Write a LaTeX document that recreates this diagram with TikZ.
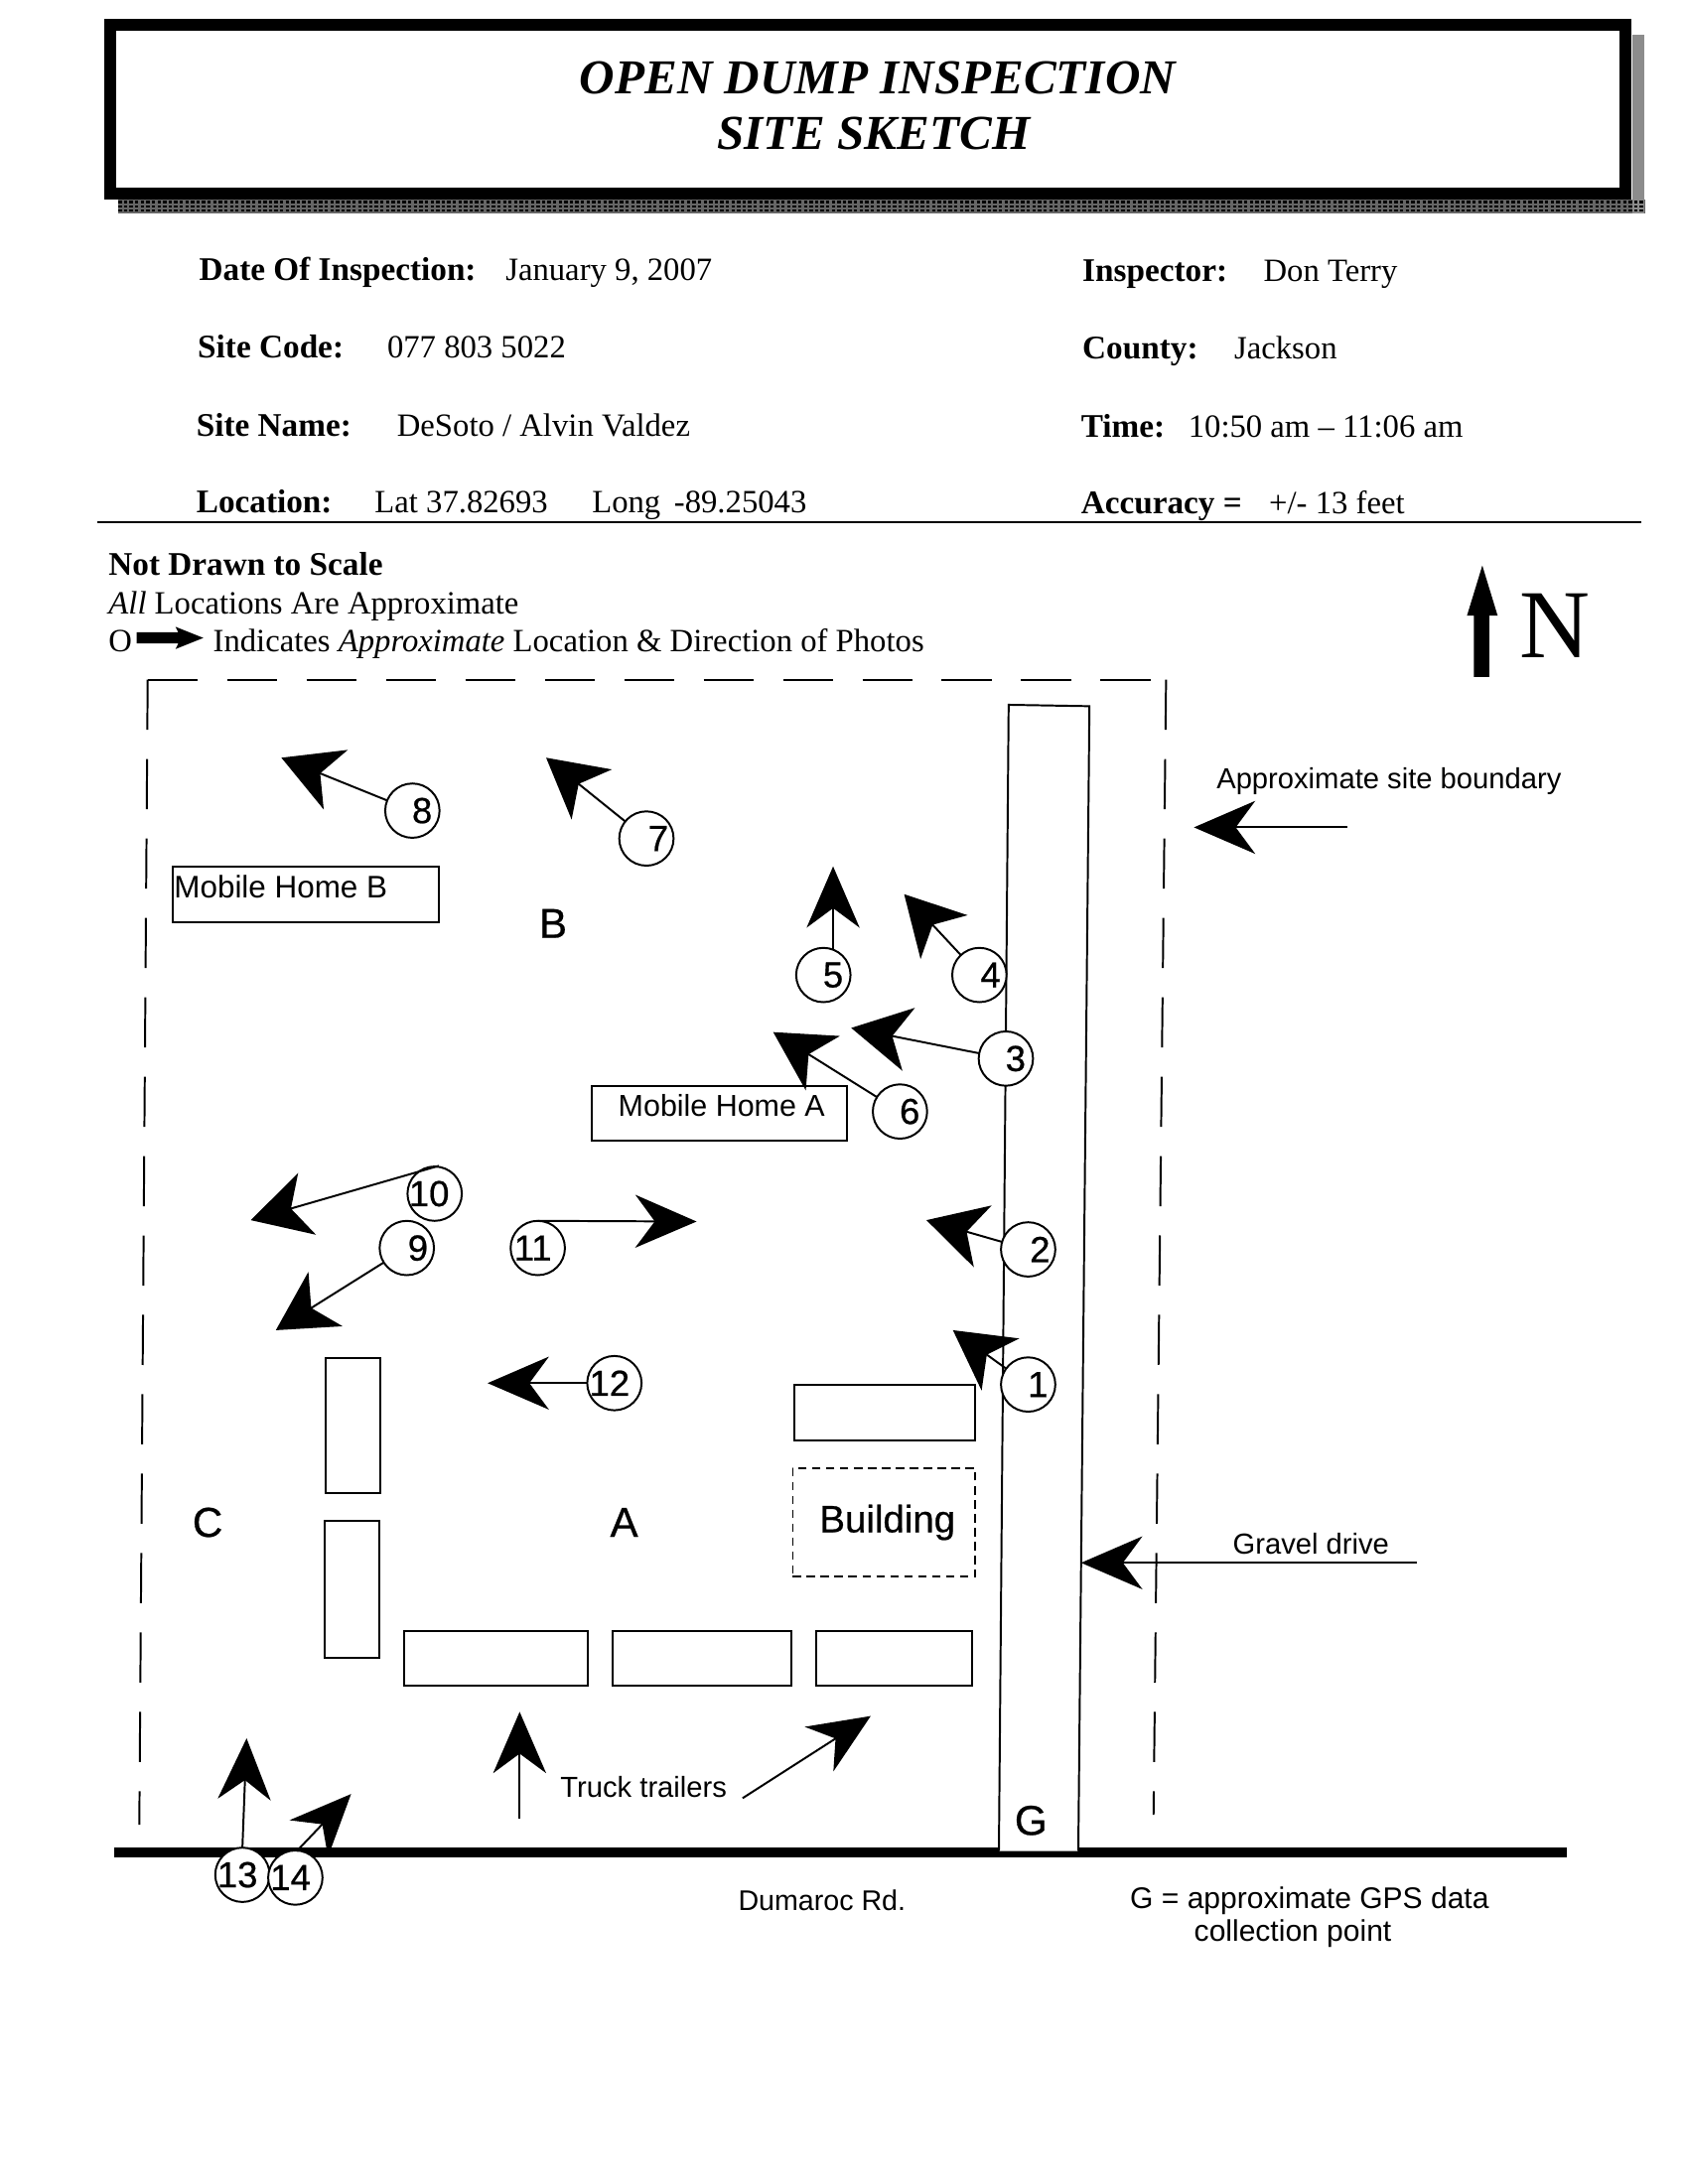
\documentclass[tikz,border=0pt]{standalone}
\usepackage{fontspec}
\setmainfont{Liberation Serif}
\newfontfamily\arl{Liberation Sans}
\newfontfamily\arlh[FakeBold=0.6]{Liberation Sans}
\usetikzlibrary{arrows.meta,shapes.geometric}
\newcommand{\sz}[1]{\fontsize{#1}{#1}\selectfont}
\tikzset{
  every node/.style={inner sep=0pt,outer sep=0pt},
  txt/.style={anchor=base west,font=\sz{11.65}},
  bld/.style={anchor=base west,font=\sz{11.85}\bfseries},
  sanslab/.style={anchor=center,font=\arl\sz{10.4}},
  bigl/.style={anchor=center,font=\arlh\sz{15}},
  unit/.style={draw=black,line width=0.7pt,fill=white},
  numc/.style={circle,draw=black,line width=0.7pt,fill=white,minimum size=19.5pt,font=\arlh\sz{13},text=black},
  pa/.style={draw=black,line width=0.7pt,-{Stealth[length=22pt,width=19pt,inset=7pt]}},
  pafat/.style={draw=black,line width=0.7pt,-{Stealth[length=21pt,width=23pt,inset=6pt]}},
  bound/.style={black,line width=0.7pt,dash pattern=on 18pt off 10.5pt},
}
\begin{document}
\begin{tikzpicture}[x=0.5pt,y=-0.5pt]
\useasboundingbox (0,0) rectangle (1209,1568);
% header
\fill[black!60] (85,143) rectangle (1181,153);
\fill[black!45] (1172,25) rectangle (1180,153);
\draw[black,line width=0.8pt,dash pattern=on 1.2pt off 0.8pt] (85,145) -- (1180,145) (85,148) -- (1180,148) (85,151) -- (1180,151);
\node[draw=black,line width=4.3pt,fill=white,minimum width=544pt,minimum height=60.5pt,anchor=north west] (hdr) at (79,18) {};
\node[font=\sz{17.5}\bfseries\itshape] (t1) at (630,56) {OPEN DUMP INSPECTION};
\node[font=\sz{17.5}\bfseries\itshape] (t2) at (627,96) {SITE SKETCH};
% form
\node[bld] (f1) at (143,201) {Date Of Inspection:};
\node[txt] (f1v) at (363,201) {January 9, 2007};
\node[bld] (f2) at (142,257) {Site Code:};
\node[txt] (f2v) at (278,257) {077 803 5022};
\node[bld] (f3) at (141,313) {Site Name:};
\node[txt] (f3v) at (285,313) {DeSoto / Alvin Valdez};
\node[bld] (f4) at (141,368) {Location:};
\node[txt] (f4v) at (269,368) {Lat 37.82693};
\node[txt] (f4w) at (425,368) {Long \,-89.25043};
\node[bld] (g1) at (777,202) {Inspector:};
\node[txt] (g1v) at (907,202) {Don Terry};
\node[bld] (g2) at (777,258) {County:};
\node[txt] (g2v) at (886,258) {Jackson};
\node[bld] (g3) at (776,314) {Time:};
\node[txt] (g3v) at (853,314) {10:50 am -- 11:06 am};
\node[bld] (g4) at (776,369) {Accuracy =};
\node[txt] (g4v) at (911,369) {+/- 13 feet};
\draw[black,line width=0.9pt] (70,375) -- (1178,375);
% notes
\node[bld] (no1) at (78,413) {Not Drawn to Scale};
\node[txt] (no2) at (78,441) {\textit{All} Locations Are Approximate};
\node[txt] (no3) at (78,468) {O};
\node[txt] (no4) at (153,468) {Indicates \textit{Approximate} Location \& Direction of Photos};
\fill[black] (98,454) -- (128,454) -- (126,450) -- (146,458) -- (126,466) -- (128,462) -- (98,462) -- cycle;
% north
\fill[black] (1058,486) -- (1058,442) -- (1053,442) -- (1064,406) -- (1075,442) -- (1069,442) -- (1069,486) -- cycle;
\node[anchor=base,font=\sz{35}] (nn) at (1116,472) {N};
% boundary
\coordinate (bl) at (100,1310);
\coordinate (btl) at (106,488);
\coordinate (btr) at (837,488);
\coordinate (br) at (828,1303);
\draw[bound] (btl) -- (bl);
\draw[bound] (btl) -- (btr);
\draw[bound] (btr) -- (br);
% road and drive
\coordinate (rdl) at (82,1330);
\coordinate (rdr) at (1125,1330);
\draw[black,line width=3.6pt] (rdl) -- (rdr);
\fill[white] (717,1329) -- (724,506) -- (782,507) -- (774,1329) -- cycle;
\draw[black,line width=0.7pt] (717,1329) -- (724,506) -- (782,507) -- (774,1329);
% boxes
\node[unit,minimum width=95.5pt,minimum height=20pt,anchor=north west] (mhb) at (124,622) {};
\node[font=\arl\sz{11.2},anchor=west] (mhbt) at (125,637) {Mobile Home B};
\node[unit,minimum width=91.5pt,minimum height=19.5pt,anchor=north west] (mha) at (425,780) {};
\node[font=\arl\sz{10.85}] (mhat) at (518,794) {Mobile Home A};
\node[unit,minimum width=65pt,minimum height=20pt,anchor=north west] (b1) at (570,994) {};
\node[draw=black,line width=0.6pt,dash pattern=on 3pt off 2pt,minimum width=65.5pt,minimum height=39pt,anchor=north west] (bld) at (569,1054) {};
\node[font=\arlh\sz{13.7}] (bldt) at (637,1093) {Building};
\node[unit,minimum width=19.5pt,minimum height=48.5pt,anchor=north west] (b2) at (234,975) {};
\node[unit,minimum width=19.5pt,minimum height=49pt,anchor=north west] (b3) at (233,1092) {};
\node[unit,minimum width=66pt,minimum height=19.5pt,anchor=north west] (b4) at (290,1171) {};
\node[unit,minimum width=64pt,minimum height=19.5pt,anchor=north west] (b5) at (440,1171) {};
\node[unit,minimum width=56pt,minimum height=19.5pt,anchor=north west] (b6) at (586,1171) {};
% letters
\node[bigl] (lb) at (397,663) {B};
\node[bigl] (la) at (448,1093) {A};
\node[bigl] (lc) at (149,1093) {C};
\node[bigl] (lg) at (740,1307) {G};
% labels
\node[sanslab] (asb) at (997,561) {Approximate site boundary};
\node[sanslab] (gd) at (941,1108) {Gravel drive};
\node[sanslab] (tt) at (462,1283) {Truck trailers};
\node[sanslab,font=\arl\sz{10.2}] (dr) at (590,1364) {Dumaroc Rd.};
\node[sanslab,font=\arl\sz{10.7}] (gps1) at (940,1365) {G = approximate GPS data};
\node[sanslab,font=\arl\sz{10.7}] (gps2) at (928,1388) {collection point};
% circles
\node[numc] (n1) at (738,994) {\hspace*{7pt}1};
\node[numc] (n2) at (738,897) {\hspace*{8.5pt}2};
\node[numc] (n3) at (722,760) {\hspace*{7pt}3};
\node[numc] (n4) at (703,700) {\hspace*{8pt}4};
\node[numc] (n5) at (591,700) {\hspace*{7pt}5};
\node[numc] (n6) at (646,798) {\hspace*{7pt}6};
\node[numc] (n7) at (464,602) {\hspace*{8.5pt}7};
\node[numc] (n8) at (296,582) {\hspace*{7pt}8};
\node[numc] (n9) at (292,896) {\hspace*{8pt}9};
\node[numc] (n10) at (312,857) {\hspace*{-4pt}10};
\node[numc] (n11) at (386,896) {\hspace*{-3.5pt}11};
\node[numc] (n12) at (441,993) {\hspace*{-3.5pt}12};
\node[numc] (n13) at (174,1346) {\hspace*{-3.5pt}13};
\node[numc] (n14) at (212,1348) {\hspace*{-3.5pt}14};
% tips
\coordinate (t1a) at (684,955);
\coordinate (t2a) at (665,876);
\coordinate (t3a) at (611,738);
\coordinate (t4a) at (649,642);
\coordinate (s5) at (598,682);
\coordinate (t5a) at (598,622);
\coordinate (t6a) at (555,741);
\coordinate (t7a) at (392,544);
\coordinate (t8a) at (202,544);
\coordinate (t9a) at (198,955);
\coordinate (t10a) at (180,876);
\coordinate (s10) at (315,837);
\coordinate (t11a) at (500,877);
\coordinate (t12a) at (350,993);
\coordinate (t13a) at (177,1248);
\coordinate (s14) at (213,1329);
\coordinate (t14a) at (252,1288);
\coordinate (t15a) at (373,1229);
\coordinate (s15) at (373,1306);
\coordinate (t16a) at (625,1232);
\coordinate (s16) at (533,1291);
\coordinate (t17a) at (857,594);
\coordinate (s17) at (967,594);
\coordinate (t18a) at (776,1122);
\coordinate (s18) at (1017,1122);
\draw[pafat] (n1) -- (t1a);
\draw[pafat] (n2) -- (t2a);
\draw[pafat] (n3) -- (t3a);
\draw[pafat] (n4) -- (t4a);
\draw[pa] (s5) -- (t5a);
\draw[pafat] (n6) -- (t6a);
\draw[pafat] (n7) -- (t7a);
\draw[pafat] (n8) -- (t8a);
\draw[pafat] (n9) -- (t9a);
\draw[pafat] (s10) -- (t10a);
\draw[pa] (n11.north) -- (t11a);
\draw[pa] (n12) -- (t12a);
\draw[pa] (n13.north) -- (t13a);
\draw[pa] (s14) -- (t14a);
\draw[pa] (s15) -- (t15a);
\draw[pa] (s16) -- (t16a);
\draw[pa] (s17) -- (t17a);
\draw[pa] (s18) -- (t18a);
\end{tikzpicture}
\end{document}
